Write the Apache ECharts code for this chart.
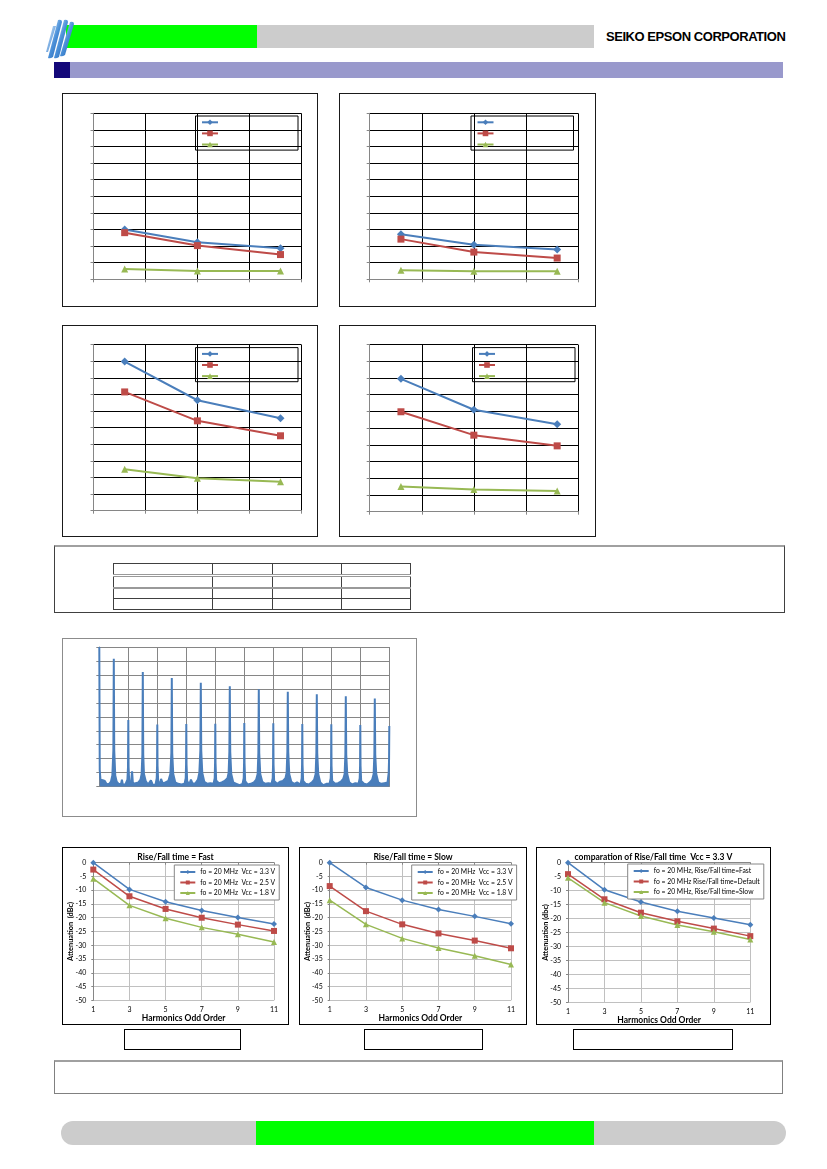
<!DOCTYPE html>
<html>
<head>
<meta charset="utf-8">
<script src="https://cdn.jsdelivr.net/npm/echarts@6/dist/echarts.min.js"></script>
<style>
  body { margin: 0; background: #fff; }
  #page { position: relative; width: 827px; height: 1169px; overflow: hidden; background: #fff; }
  .abs { position: absolute; box-sizing: border-box; }
  .frame { position: absolute; box-sizing: border-box; border: 1px solid #1a1a1a; background: #fff; }
  .bframe { position: absolute; box-sizing: border-box; border: 1px solid #000; background: #fff; }
  table.t { position: absolute; border-collapse: collapse; }
  table.t td { border: 1px solid #404040; padding: 0; }
</style>
</head>
<body>
<div id="page">
  <!-- header -->
  <div class="abs" style="left:66px;top:25px;width:191px;height:23px;background:#00ff00;"></div>
  <div class="abs" style="left:257px;top:25px;width:337px;height:23px;background:#cccccc;"></div>
  <svg class="abs" style="left:44px;top:18px;" width="34" height="42" viewBox="0 0 34 42">
    <defs>
      <linearGradient id="lg" x1="0" y1="0" x2="1" y2="1">
        <stop offset="0" stop-color="#dff0ff"/>
        <stop offset="0.5" stop-color="#4a90d9"/>
        <stop offset="1" stop-color="#1b5aa8"/>
      </linearGradient>
    </defs>
    <path d="M14 2 Q18 1 18 4 L9 39 Q6 41 4 40 Z" fill="url(#lg)"/>
    <path d="M20 2 Q24 1 24 4 L15 39 Q12 41 10 40 Z" fill="url(#lg)"/>
    <path d="M26 4 Q30 3 30 6 L21 37 Q18 39 16 38 Z" fill="url(#lg)"/>
    <path d="M9 8 L12 8 L4 34 L2 34 Z" fill="url(#lg)" opacity="0.7"/>
  </svg>
  <div class="abs" style="left:606px;top:29px;font:bold 13px 'Liberation Sans',Arial,sans-serif;letter-spacing:-0.45px;color:#000;white-space:nowrap;">SEIKO EPSON CORPORATION</div>
  <div class="abs" style="left:54px;top:62px;width:16px;height:16px;background:#14087a;"></div>
  <div class="abs" style="left:70px;top:62px;width:713px;height:16px;background:#9999cc;"></div>

  <!-- four top charts -->
  <div id="c1" class="frame" style="left:62px;top:93px;width:256px;height:214px;"></div>
  <div id="c2" class="frame" style="left:339px;top:93px;width:257px;height:214px;"></div>
  <div id="c3" class="frame" style="left:62px;top:325px;width:256px;height:212px;"></div>
  <div id="c4" class="frame" style="left:339px;top:325px;width:257px;height:212px;"></div>

  <!-- table box -->
  <div class="abs" style="left:54px;top:545px;width:731px;height:68px;border:1px solid #404040;border-top:2px solid #a0a0a0;"></div>
  <table class="t" style="left:113px;top:563px;">
    <tr style="height:12px;"><td style="width:98px;"></td><td style="width:59px;"></td><td style="width:68px;"></td><td style="width:68px;"></td></tr>
    <tr style="height:12px;border-top:3px double #999;"><td></td><td></td><td></td><td></td></tr>
    <tr style="height:11px;border-top:2px solid #999;"><td></td><td></td><td></td><td></td></tr>
    <tr style="height:11px;"><td></td><td></td><td></td><td></td></tr>
  </table>

  <!-- spectrum -->
  <div id="spec" class="abs" style="left:62px;top:638px;width:355px;height:179px;border:1px solid #8c8c8c;background:#fff;"></div>

  <!-- bottom charts -->
  <div id="b1" class="bframe" style="left:62px;top:847px;width:227px;height:178px;"></div>
  <div id="b2" class="bframe" style="left:299px;top:847px;width:228px;height:178px;"></div>
  <div id="b3" class="bframe" style="left:536px;top:847px;width:235px;height:178px;"></div>
  <div class="abs" style="left:124px;top:1029px;width:117px;height:21px;border:1px solid #000;"></div>
  <div class="abs" style="left:364px;top:1029px;width:119px;height:21px;border:1px solid #000;"></div>
  <div class="abs" style="left:573px;top:1029px;width:160px;height:21px;border:1px solid #000;"></div>

  <!-- note + footer -->
  <div class="abs" style="left:54px;top:1060px;width:729px;height:34px;border:1px solid #808080;border-top:2px solid #a0a0a0;"></div>
  <div class="abs" style="left:61px;top:1121px;width:725px;height:24px;border-radius:12px;background:#cccccc;"></div>
  <div class="abs" style="left:256px;top:1121px;width:338px;height:24px;background:#00ff00;"></div>
</div>

<script>
// ---- data ----
var topX = [0.6, 2.0, 3.6];
var top1Blue = [3.0, 2.23, 1.87];
var top1Red = [2.81, 2.03, 1.49];
var top1Green = [0.62, 0.5, 0.5];
var top2Blue = [2.72, 2.08, 1.8];
var top2Red = [2.42, 1.64, 1.28];
var top2Green = [0.54, 0.48, 0.48];
var top3Blue = [8.98, 6.65, 5.57];
var top3Red = [7.15, 5.41, 4.51];
var top3Green = [2.5, 1.96, 1.74];
var top4Blue = [7.95, 6.1, 5.24];
var top4Red = [5.98, 4.58, 3.94];
var top4Green = [1.51, 1.33, 1.24];

var harmonics = ['1', '3', '5', '7', '9', '11'];
var fastVcc33 = [0, -9.7, -14.2, -17.4, -19.9, -22.3];
var fastVcc25 = [-2.5, -12.2, -16.8, -20.0, -22.5, -24.8];
var fastVcc18 = [-5.8, -15.5, -20.2, -23.5, -26.0, -28.8];
var slowVcc33 = [0, -9.0, -13.6, -17.0, -19.5, -22.2];
var slowVcc25 = [-8.5, -17.6, -22.4, -25.7, -28.3, -31.1];
var slowVcc18 = [-13.6, -22.4, -27.5, -31.0, -33.8, -37.0];
var cmpFast = [0, -9.7, -14.1, -17.4, -19.8, -22.2];
var cmpDefault = [-4.1, -13.1, -17.9, -21.0, -23.6, -26.3];
var cmpSlow = [-5.4, -14.3, -19.1, -22.3, -24.7, -27.5];
var vccNames = ['fo = 20 MHz  Vcc = 3.3 V', 'fo = 20 MHz  Vcc = 2.5 V', 'fo = 20 MHz  Vcc = 1.8 V'];
var cmpNames = ['fo = 20 MHz, Rise/Fall time=Fast', 'fo = 20 MHz Rise/Fall time=Default', 'fo = 20 MHz, Rise/Fall time=Slow'];

// spectrum trace [x, level]
var spectrum = [
  [0, 10], [0.15, 1.2], [0.4, 0.5], [1.2, 0.45], [1.9, 0.4], [2.6, 0.15], [3.4, 0.2], [4.0, 0.35], [4.5, 0.8], [4.85, 2.6], [5, 9.16], [5.15, 2.6], [5.5, 0.8], [6.0, 0.35], [6.8, 0.15], [7.5, 0.2], [7.8, 0.5], [8.1, 0.15],
  [9.0, 0.15], [9.7, 0.5], [9.9, 1.4], [10, 4.77], [10.1, 1.4], [10.3, 0.4], [10.9, 0.2], [11.3, 1.1], [11.6, 0.2], [12.5, 0.25], [13.5, 0.3], [14.2, 0.5], [14.6, 0.9], [14.85, 2.3], [15, 8.2], [15.15, 2.3], [15.4, 0.9], [16.0, 0.4], [16.8, 0.15], [17.8, 0.45], [18.5, 0.1],
  [19.4, 0.15], [19.8, 0.6], [19.92, 1.5], [20, 4.44], [20.08, 1.5], [20.3, 0.4], [20.8, 0.1], [21.3, 0.55], [21.8, 0.25], [22.8, 0.3], [23.8, 0.4], [24.5, 0.9], [24.85, 2.4], [25, 7.77], [25.15, 2.4], [25.5, 0.9], [26.2, 0.3], [27.2, 0.2], [28.3, 0.15],
  [29.4, 0.2], [29.8, 0.6], [29.92, 1.6], [30, 4.48], [30.08, 1.6], [30.3, 0.4], [31.0, 0.15], [31.6, 0.5], [32.2, 0.2], [33.2, 0.25], [34.0, 0.5], [34.5, 1.0], [34.85, 2.6], [35, 7.43], [35.15, 2.6], [35.5, 1.0], [36.2, 0.35], [37.3, 0.2], [38.3, 0.25],
  [39.4, 0.2], [39.8, 0.6], [39.92, 1.7], [40, 4.51], [40.08, 1.7], [40.3, 0.45], [41.2, 0.25], [42.2, 0.3], [43.2, 0.4], [44.2, 0.6], [44.6, 1.0], [44.85, 2.5], [45, 7.19], [45.15, 2.5], [45.5, 0.9], [46.2, 0.3], [47.3, 0.2], [48.4, 0.1],
  [49.4, 0.2], [49.8, 0.6], [49.92, 1.7], [50, 4.56], [50.08, 1.7], [50.3, 0.4], [51.2, 0.15], [52.2, 0.2], [53.3, 0.3], [54.1, 0.5], [54.6, 0.9], [54.85, 2.4], [55, 6.98], [55.15, 2.4], [55.5, 0.9], [56.2, 0.35], [57.2, 0.2], [58.3, 0.25],
  [59.4, 0.2], [59.8, 0.6], [59.92, 1.6], [60, 4.53], [60.08, 1.6], [60.3, 0.4], [61.3, 0.2], [62.3, 0.35], [63.3, 0.4], [64.2, 0.6], [64.6, 1.0], [64.85, 2.5], [65, 6.79], [65.15, 2.5], [65.5, 0.9], [66.2, 0.35], [67.2, 0.2], [68.2, 0.3],
  [69.4, 0.15], [69.8, 0.6], [69.92, 1.6], [70, 4.48], [70.08, 1.6], [70.3, 0.4], [71.2, 0.2], [72.2, 0.15], [73.3, 0.3], [74.1, 0.5], [74.6, 0.9], [74.85, 2.4], [75, 6.62], [75.15, 2.4], [75.5, 0.9], [76.2, 0.3], [77.2, 0.1], [78.3, 0.2],
  [79.4, 0.2], [79.8, 0.6], [79.92, 1.5], [80, 4.46], [80.08, 1.5], [80.3, 0.4], [81.3, 0.2], [82.3, 0.25], [83.3, 0.35], [84.1, 0.55], [84.6, 0.9], [84.85, 2.3], [85, 6.47], [85.15, 2.3], [85.5, 0.9], [86.2, 0.3], [87.2, 0.15], [88.3, 0.25],
  [89.4, 0.2], [89.8, 0.6], [89.92, 1.5], [90, 4.41], [90.08, 1.5], [90.3, 0.4], [91.3, 0.2], [92.3, 0.15], [93.3, 0.3], [94.1, 0.5], [94.6, 0.9], [94.85, 2.3], [95, 6.31], [95.15, 2.3], [95.5, 0.9], [96.2, 0.3], [97.2, 0.2], [98.3, 0.25],
  [99.4, 0.3], [99.8, 1.0], [99.92, 2.0], [100, 4.34]
];

var BLUE = '#4a7ebb', RED = '#be4b48', GREEN = '#98b954';
var FONT = 'Lato, "Open Sans", sans-serif';

function pairs(xs, ys) {
  return ys.map(function (y, i) { return [xs[i], y]; });
}

// top charts: no text, legend boxes only
function topChart(id, blue, red, green, g, lg) {
  var chart = echarts.init(document.getElementById(id));
  function s(name, data, color, sym, size) {
    return {
      name: name, type: 'line', data: pairs(topX, data),
      symbol: sym, symbolSize: size, color: color,
      lineStyle: { width: 2, color: color }, itemStyle: { color: color }
    };
  }
  chart.setOption({
    animation: false,
    grid: { left: g[0], right: g[1], top: g[2], bottom: g[3], outerBoundsMode: 'none' },
    legend: {
      orient: 'vertical', left: lg[0], top: lg[1],
      data: ['a', 'b', 'c'],
      formatter: function () { return ''; },
      textStyle: { fontSize: 1 },
      itemWidth: 16, itemHeight: 7, itemGap: 4.8,
      borderColor: '#000', borderWidth: 1,
      padding: [2.8, 79, 2.8, 5.5]
    },
    xAxis: {
      type: 'value', min: 0, max: 4, interval: 1,
      axisLine: { lineStyle: { color: '#868686' } },
      axisTick: { show: true, length: 3, lineStyle: { color: '#868686' } },
      axisLabel: { show: false },
      splitLine: { show: true, lineStyle: { color: '#000', width: 1 } }
    },
    yAxis: {
      type: 'value', min: 0, max: 10, interval: 1,
      axisLine: { show: true, lineStyle: { color: '#868686' } },
      axisTick: { show: true, length: 3, lineStyle: { color: '#868686' } },
      axisLabel: { show: false },
      splitLine: { show: true, lineStyle: { color: '#000', width: 1 } }
    },
    series: [
      s('a', blue, BLUE, 'diamond', 8),
      s('b', red, RED, 'rect', 7),
      s('c', green, GREEN, 'triangle', 7)
    ]
  });
}

topChart('c1', top1Blue, top1Red, top1Green, [30.5, 15.7, 19.3, 26.7], [132.5, 22]);
topChart('c2', top2Blue, top2Red, top2Green, [29.7, 17, 19.3, 26.7], [131, 22]);
topChart('c3', top3Blue, top3Red, top3Green, [30.5, 15.7, 18.6, 25.3], [132.5, 21.6]);
topChart('c4', top4Blue, top4Red, top4Green, [29.7, 17, 18.6, 24.3], [132.5, 21.6]);

// spectrum
(function () {
  var chart = echarts.init(document.getElementById('spec'));
  chart.setOption({
    animation: false,
    grid: { left: 36.3, right: 26.7, top: 8, bottom: 29.4, outerBoundsMode: 'none' },
    xAxis: {
      type: 'value', min: 0, max: 100, interval: 10,
      axisLine: { lineStyle: { color: '#868686' } },
      axisTick: { show: false },
      axisLabel: { show: false },
      splitLine: { show: true, lineStyle: { color: '#868686', width: 1 } }
    },
    yAxis: {
      type: 'value', min: 0, max: 10, interval: 1,
      axisLine: { show: true, lineStyle: { color: '#868686' } },
      axisTick: { show: true, length: 3, lineStyle: { color: '#868686' } },
      axisLabel: { show: false },
      splitLine: { show: true, lineStyle: { color: '#868686', width: 1 } }
    },
    series: [{
      type: 'line', data: spectrum, symbol: 'none',
      lineStyle: { color: BLUE, width: 2 },
      areaStyle: { color: BLUE, opacity: 1 },
      z: 3
    }]
  });
})();

// bottom attenuation charts
function attChart(id, title, yName, names, d1, d2, d3, g, lg) {
  var chart = echarts.init(document.getElementById(id));
  function s(name, data, color, sym, size) {
    return {
      name: name, type: 'line', data: data,
      symbol: sym, symbolSize: size, color: color,
      lineStyle: { width: 1.5, color: color }, itemStyle: { color: color }
    };
  }
  chart.setOption({
    animation: false,
    textStyle: { fontFamily: FONT },
    title: {
      text: title, left: 'center', top: 5, padding: 0,
      textStyle: { fontFamily: FONT, fontSize: 8.5, fontWeight: 'bold', color: '#000' }
    },
    grid: { left: g[0], right: g[1], top: g[2], bottom: g[3], outerBoundsMode: 'none' },
    legend: {
      orient: 'vertical', left: lg[0], top: lg[1],
      data: names,
      itemWidth: 15, itemHeight: 5, itemGap: 2.5,
      textStyle: { fontFamily: FONT, fontSize: 6.8, color: '#000', lineHeight: 8 },
      backgroundColor: '#fff', borderColor: '#868686', borderWidth: 1,
      padding: [3, 4, 3, 5]
    },
    xAxis: {
      type: 'category', data: harmonics, boundaryGap: false,
      name: 'Harmonics Odd Order', nameLocation: 'middle', nameGap: 13.5, nameMoveOverlap: false,
      nameTextStyle: { fontFamily: FONT, fontSize: 8.5, fontWeight: 'bold', color: '#000' },
      axisLine: { lineStyle: { color: '#868686' } },
      axisTick: { show: true, length: 2, alignWithLabel: true, lineStyle: { color: '#868686' } },
      axisLabel: { fontFamily: FONT, fontSize: 7, color: '#000', margin: 6 },
      splitLine: { show: true, lineStyle: { color: '#c0c0c0', width: 1 } }
    },
    yAxis: {
      type: 'value', min: -50, max: 0, interval: 5,
      name: yName, nameLocation: 'middle', nameGap: 19, nameRotate: 90, nameMoveOverlap: false,
      nameTextStyle: { fontFamily: FONT, fontSize: 7.4, fontWeight: 'bold', color: '#000' },
      axisLine: { show: true, lineStyle: { color: '#868686' } },
      axisTick: { show: true, length: 2, lineStyle: { color: '#868686' } },
      axisLabel: { fontFamily: FONT, fontSize: 7, color: '#000', margin: 7 },
      splitLine: { show: true, lineStyle: { color: '#c0c0c0', width: 1 } }
    },
    series: [
      s(names[0], d1, BLUE, 'diamond', 6),
      s(names[1], d2, RED, 'rect', 6),
      s(names[2], d3, GREEN, 'triangle', 6)
    ]
  });
}

attChart('b1', 'Rise/Fall time = Fast', 'Attenuation  (dBc)', vccNames,
  fastVcc33, fastVcc25, fastVcc18, [30.3, 14, 14.7, 23.7], [111.3, 17]);
attChart('b2', 'Rise/Fall time = Slow', 'Attenuation  (dBc)', vccNames,
  slowVcc33, slowVcc25, slowVcc18, [29.7, 15, 14.7, 23.7], [111.7, 17]);
attChart('b3', 'comparation of Rise/Fall time  Vcc = 3.3 V', 'Attenuation (dbc)', cmpNames,
  cmpFast, cmpDefault, cmpSlow, [31, 19.7, 14.7, 21.7], [90.7, 16]);
</script>
</body>
</html>
